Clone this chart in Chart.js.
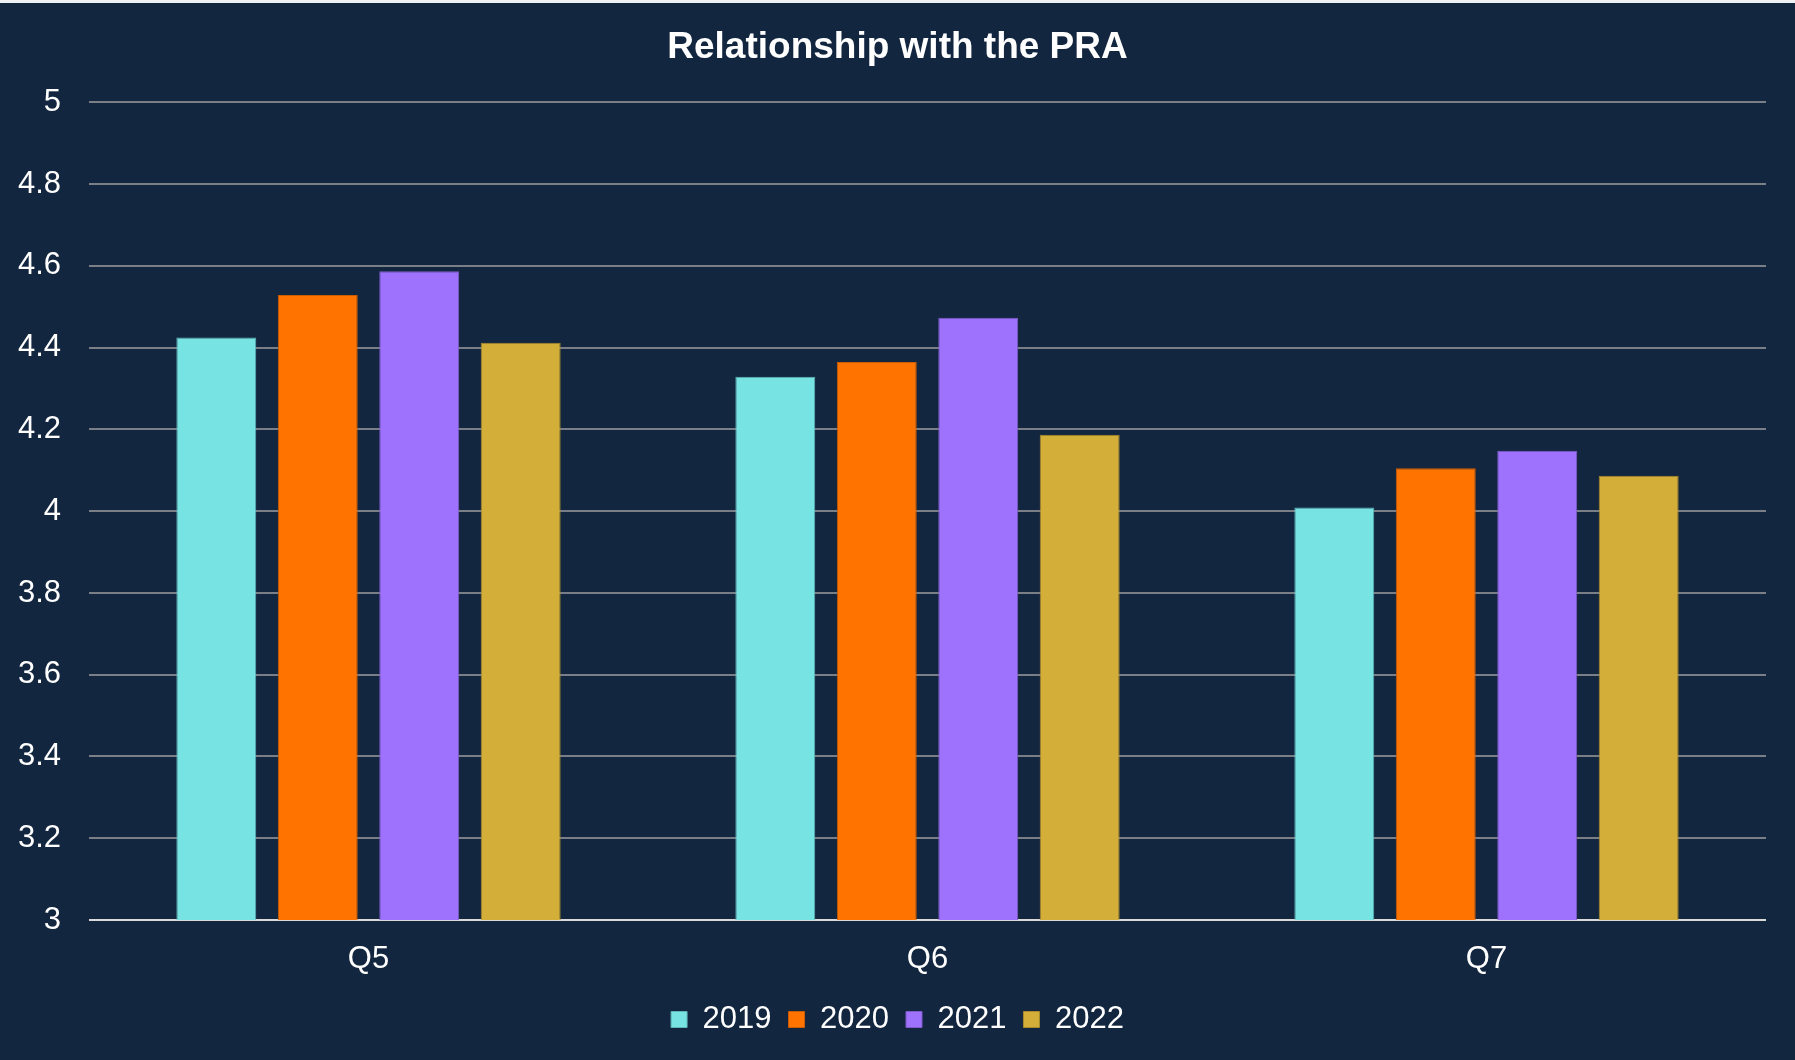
<!DOCTYPE html>
<html>
<head>
<meta charset="utf-8">
<script src="https://cdn.jsdelivr.net/npm/chart.js@4.4.0/dist/chart.umd.min.js"></script>
<style>
  html, body { margin: 0; padding: 0; background: #13263F; }
  #wrap { width: 1795px; height: 1057px; border-top: 3px solid #eef0f3; background: #13263F; }
  canvas { display: block; }
</style>
</head>
<body>
<div id="wrap"><canvas id="chart" width="1795" height="1057"></canvas></div>
<script>
// values (survey score, 1–5 scale)
var categories = ["Q5", "Q6", "Q7"];
var years = ["2019", "2020", "2021", "2022"];
var v2019 = [4.425, 4.329, 4.009];
var v2020 = [4.529, 4.365, 4.105];
var v2021 = [4.587, 4.473, 4.148];
var v2022 = [4.412, 4.187, 4.087];
var yMin = 3, yMax = 5, yStep = 0.2;

var FILL = ["#77E3E3", "#FF7300", "#9F72FE", "#D3AE38"];
var EDGE = ["#5FB6B8", "#CC5C00", "#7F5BCB", "#A98B2D"];
var FONT = "'Liberation Sans', Arial, sans-serif";
var series = [v2019, v2020, v2021, v2022];

Chart.defaults.font.family = FONT;
Chart.defaults.color = "#FFFFFF";
Chart.defaults.animation = false;

var datasets = years.map(function (y, i) {
  return {
    label: y,
    data: series[i],
    backgroundColor: FILL[i],
    borderColor: EDGE[i],
    borderWidth: 1,
    categoryPercentage: 0.726,
    barPercentage: 0.788
  };
});

new Chart(document.getElementById("chart"), {
  type: "bar",
  data: { labels: categories, datasets: datasets },
  options: {
    responsive: false,
    devicePixelRatio: 1,
    layout: { padding: { left: 0, right: 0, top: 0, bottom: 15 } },
    plugins: {
      title: {
        display: true,
        text: "Relationship with the PRA",
        color: "#FFFFFF",
        font: { size: 37, weight: "bold", family: FONT },
        padding: { top: 23, bottom: 32 }
      },
      legend: {
        position: "bottom",
        labels: {
          color: "#FFFFFF",
          font: { size: 31, family: FONT },
          boxWidth: 16,
          boxHeight: 16,
          padding: 17
        }
      },
      tooltip: { enabled: false }
    },
    scales: {
      x: {
        grid: { display: false, drawTicks: false },
        border: { display: false },
        ticks: { color: "#FFFFFF", font: { size: 31 }, padding: 21 },
        afterFit: function (s) { s.height = 67; }
      },
      y: {
        min: yMin,
        max: yMax,
        border: { display: false },
        grid: {
          drawTicks: false,
          lineWidth: 2,
          color: function (ctx) {
            return ctx.tick && ctx.tick.value === yMin ? "#D9D9D9" : "#7A7F87";
          }
        },
        ticks: {
          stepSize: yStep,
          color: "#FFFFFF",
          font: { size: 31 },
          padding: 28,
          callback: function (v) { return String(+v.toFixed(1)); }
        },
        afterFit: function (s) { s.width = 89; }
      },
      // empty right-hand axis: reserves the right margin so the title and
      // legend stay centred on the whole canvas
      yRight: {
        position: "right",
        min: yMin,
        max: yMax,
        grid: { display: false, drawTicks: false },
        border: { display: false },
        ticks: { display: false },
        afterFit: function (s) { s.width = 29; }
      }
    }
  }
});
</script>
</body>
</html>
